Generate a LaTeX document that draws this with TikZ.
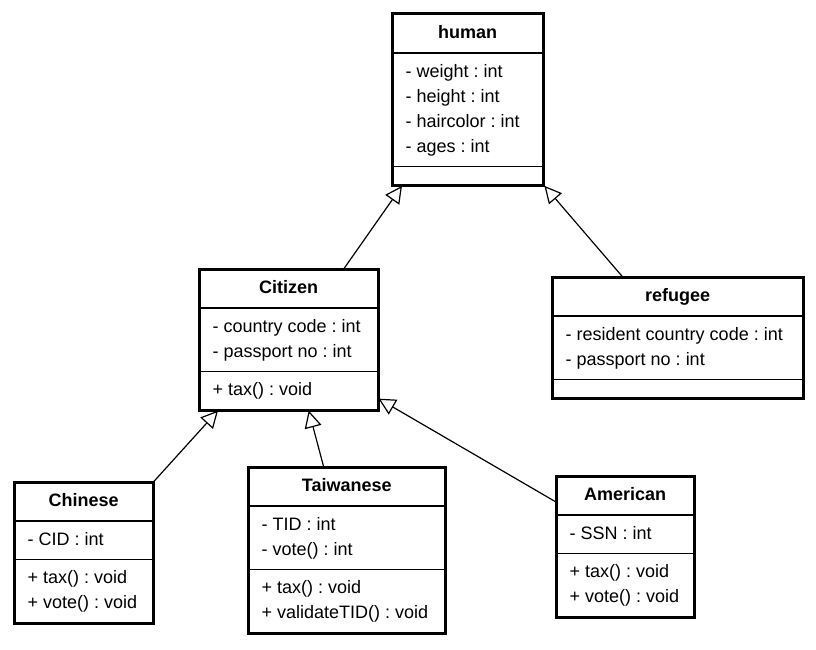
\documentclass[tikz,border=0pt]{standalone}
\usepackage{fontspec}
\setmainfont{Liberation Sans}
\usetikzlibrary{shapes.multipart, arrows.meta}

\begin{document}
\begin{tikzpicture}[
    x=1pt, y=-1pt,
    font=\fontsize{18}{25}\selectfont\frenchspacing,
    umlclass/.style={draw, line width=1.4pt, rectangle split, rectangle split parts=3,
                     rectangle split part align={center, left, left},
                     anchor=north west, align=left, inner xsep=13pt, inner ysep=6pt, fill=white},
    frame/.style={line width=3pt},
    gen/.style={-{Triangle[open, length=17pt, width=17pt]}, line width=1.2pt}
]
\useasboundingbox (0,0) rectangle (816,650);

\node[umlclass, minimum width=150pt] (human) at (392,14)
    {\strut\textbf{human}
     \nodepart{two}\strut - weight : int\\\strut - height : int\\\strut - haircolor : int\\\strut - ages : int
     \nodepart{three}};
\node[umlclass, minimum width=178pt] (citizen) at (199,269)
    {\strut\textbf{Citizen}
     \nodepart{two}\strut - country code : int\\\strut - passport no : int
     \nodepart{three}\strut + tax() : void};
\node[umlclass, minimum width=250pt] (refugee) at (552,277)
    {\strut\textbf{refugee}
     \nodepart{two}\strut - resident country code : int\\\strut - passport no : int
     \nodepart{three}};
\node[umlclass, minimum width=138pt] (chinese) at (14,482)
    {\strut\textbf{Chinese}
     \nodepart{two}\strut - CID : int
     \nodepart{three}\strut + tax() : void\\\strut + vote() : void};
\node[umlclass, minimum width=196pt] (taiwanese) at (248,467)
    {\strut\textbf{Taiwanese}
     \nodepart{two}\strut - TID : int\\\strut - vote() : int
     \nodepart{three}\strut + tax() : void\\\strut + validateTID() : void};
\node[umlclass, minimum width=137pt] (american) at (556,476)
    {\strut\textbf{American}
     \nodepart{two}\strut - SSN : int
     \nodepart{three}\strut + tax() : void\\\strut + vote() : void};

% thick outer frames
\foreach \cls in {human, citizen, refugee, chinese, taiwanese, american}
    \draw[frame] (\cls.north west) rectangle (\cls.south east);

% Citizen, refugee --> human
\draw[gen] ([xshift=55pt]citizen.north) -- ([xshift=10pt]human.south west);
\draw[gen] ([xshift=-55pt]refugee.north) -- ([xshift=1pt]human.south east);

% Chinese, Taiwanese, American --> Citizen
\draw[gen] (chinese.north east) -- ([xshift=19pt]citizen.south west);
\draw[gen] ([xshift=-23pt]taiwanese.north) -- ([xshift=20pt]citizen.south);
\draw[gen] ([yshift=-26pt]american.north west) -- ([yshift=12pt]citizen.south east);

\end{tikzpicture}
\end{document}
